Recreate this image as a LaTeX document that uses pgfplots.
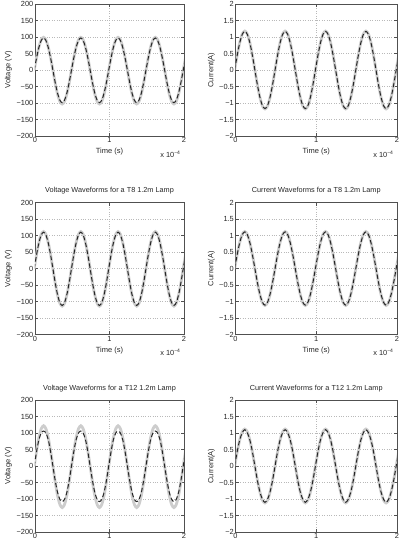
\documentclass[border=0pt]{standalone}
\usepackage{fontspec}
\setmainfont{Liberation Sans}
\usepackage{pgfplots}
\usepackage{pgfplotstable}
\pgfplotsset{compat=1.18}

\definecolor{measgrey}{RGB}{205,205,205}
\definecolor{gridgrey}{RGB}{185,185,185}
\definecolor{axisgrey}{RGB}{80,80,80}

% Measured (grey) and simulated (dashed) waveforms, time in units of 1e-4 s
% columns: t  vg (measured V)  vd (model V)  ig (measured I)  id (model I)
\pgfplotstableread{
t vg vd ig id
-0.01 0 0 0 0
0.02125 37.9 37.1 0.452 0.448
0.0525 70.0 68.6 0.834 0.827
0.08375 91.5 89.6 1.090 1.081
0.115 99 97 1.18 1.17
0.14625 91.5 89.6 1.090 1.081
0.1775 70.0 68.6 0.834 0.827
0.20875 37.9 37.1 0.452 0.448
0.24 0 0 0 0
0.27125 -39.4 -37.9 -0.452 -0.448
0.3025 -72.8 -70.0 -0.834 -0.827
0.33375 -95.2 -91.5 -1.090 -1.081
0.365 -103 -99 -1.18 -1.17
0.39625 -95.2 -91.5 -1.090 -1.081
0.4275 -72.8 -70.0 -0.834 -0.827
0.45875 -39.4 -37.9 -0.452 -0.448
0.49 0 0 0 0
0.52125 37.9 37.1 0.452 0.448
0.5525 70.0 68.6 0.834 0.827
0.58375 91.5 89.6 1.090 1.081
0.615 99 97 1.18 1.17
0.64625 91.5 89.6 1.090 1.081
0.6775 70.0 68.6 0.834 0.827
0.70875 37.9 37.1 0.452 0.448
0.74 0 0 0 0
0.77125 -39.4 -37.9 -0.452 -0.448
0.8025 -72.8 -70.0 -0.834 -0.827
0.83375 -95.2 -91.5 -1.090 -1.081
0.865 -103 -99 -1.18 -1.17
0.89625 -95.2 -91.5 -1.090 -1.081
0.9275 -72.8 -70.0 -0.834 -0.827
0.95875 -39.4 -37.9 -0.452 -0.448
0.99 0 0 0 0
1.02125 37.9 37.1 0.452 0.448
1.0525 70.0 68.6 0.834 0.827
1.08375 91.5 89.6 1.090 1.081
1.115 99 97 1.18 1.17
1.14625 91.5 89.6 1.090 1.081
1.1775 70.0 68.6 0.834 0.827
1.20875 37.9 37.1 0.452 0.448
1.24 0 0 0 0
1.27125 -39.4 -37.9 -0.452 -0.448
1.3025 -72.8 -70.0 -0.834 -0.827
1.33375 -95.2 -91.5 -1.090 -1.081
1.365 -103 -99 -1.18 -1.17
1.39625 -95.2 -91.5 -1.090 -1.081
1.4275 -72.8 -70.0 -0.834 -0.827
1.45875 -39.4 -37.9 -0.452 -0.448
1.49 0 0 0 0
1.52125 37.9 37.1 0.452 0.448
1.5525 70.0 68.6 0.834 0.827
1.58375 91.5 89.6 1.090 1.081
1.615 99 97 1.18 1.17
1.64625 91.5 89.6 1.090 1.081
1.6775 70.0 68.6 0.834 0.827
1.70875 37.9 37.1 0.452 0.448
1.74 0 0 0 0
1.77125 -39.4 -37.9 -0.452 -0.448
1.8025 -72.8 -70.0 -0.834 -0.827
1.83375 -95.2 -91.5 -1.090 -1.081
1.865 -103 -99 -1.18 -1.17
1.89625 -95.2 -91.5 -1.090 -1.081
1.9275 -72.8 -70.0 -0.834 -0.827
1.95875 -39.4 -37.9 -0.452 -0.448
1.99 0 0 0 0
2.02125 37.9 37.1 0.452 0.448
}\lampfive

\pgfplotstableread{
t vg vd ig id
-0.01 0 0 0 0
0.02125 42.9 42.1 0.429 0.425
0.0525 79.2 77.8 0.792 0.785
0.08375 103.5 101.6 1.035 1.026
0.115 112 110 1.12 1.11
0.14625 103.5 101.6 1.035 1.026
0.1775 79.2 77.8 0.792 0.785
0.20875 42.9 42.1 0.429 0.425
0.24 0 0 0 0
0.27125 -43.6 -42.9 -0.429 -0.425
0.3025 -80.6 -79.2 -0.792 -0.785
0.33375 -105.3 -103.5 -1.035 -1.026
0.365 -114 -112 -1.12 -1.11
0.39625 -105.3 -103.5 -1.035 -1.026
0.4275 -80.6 -79.2 -0.792 -0.785
0.45875 -43.6 -42.9 -0.429 -0.425
0.49 0 0 0 0
0.52125 42.9 42.1 0.429 0.425
0.5525 79.2 77.8 0.792 0.785
0.58375 103.5 101.6 1.035 1.026
0.615 112 110 1.12 1.11
0.64625 103.5 101.6 1.035 1.026
0.6775 79.2 77.8 0.792 0.785
0.70875 42.9 42.1 0.429 0.425
0.74 0 0 0 0
0.77125 -43.6 -42.9 -0.429 -0.425
0.8025 -80.6 -79.2 -0.792 -0.785
0.83375 -105.3 -103.5 -1.035 -1.026
0.865 -114 -112 -1.12 -1.11
0.89625 -105.3 -103.5 -1.035 -1.026
0.9275 -80.6 -79.2 -0.792 -0.785
0.95875 -43.6 -42.9 -0.429 -0.425
0.99 0 0 0 0
1.02125 42.9 42.1 0.429 0.425
1.0525 79.2 77.8 0.792 0.785
1.08375 103.5 101.6 1.035 1.026
1.115 112 110 1.12 1.11
1.14625 103.5 101.6 1.035 1.026
1.1775 79.2 77.8 0.792 0.785
1.20875 42.9 42.1 0.429 0.425
1.24 0 0 0 0
1.27125 -43.6 -42.9 -0.429 -0.425
1.3025 -80.6 -79.2 -0.792 -0.785
1.33375 -105.3 -103.5 -1.035 -1.026
1.365 -114 -112 -1.12 -1.11
1.39625 -105.3 -103.5 -1.035 -1.026
1.4275 -80.6 -79.2 -0.792 -0.785
1.45875 -43.6 -42.9 -0.429 -0.425
1.49 0 0 0 0
1.52125 42.9 42.1 0.429 0.425
1.5525 79.2 77.8 0.792 0.785
1.58375 103.5 101.6 1.035 1.026
1.615 112 110 1.12 1.11
1.64625 103.5 101.6 1.035 1.026
1.6775 79.2 77.8 0.792 0.785
1.70875 42.9 42.1 0.429 0.425
1.74 0 0 0 0
1.77125 -43.6 -42.9 -0.429 -0.425
1.8025 -80.6 -79.2 -0.792 -0.785
1.83375 -105.3 -103.5 -1.035 -1.026
1.865 -114 -112 -1.12 -1.11
1.89625 -105.3 -103.5 -1.035 -1.026
1.9275 -80.6 -79.2 -0.792 -0.785
1.95875 -43.6 -42.9 -0.429 -0.425
1.99 0 0 0 0
2.02125 42.9 42.1 0.429 0.425
}\lampeight

\pgfplotstableread{
t vg vd ig id
-0.01 0 0 0 0
0.02125 46.7 44 0.429 0.44
0.0525 86.3 80 0.792 0.79
0.08375 112.7 100 1.035 1.01
0.115 122 106 1.12 1.10
0.14625 112.7 100 1.035 1.01
0.1775 86.3 80 0.792 0.79
0.20875 46.7 44 0.429 0.44
0.24 0 0 0 0
0.27125 -48.2 -44 -0.429 -0.44
0.3025 -89.1 -80 -0.792 -0.79
0.33375 -116.4 -101 -1.035 -1.01
0.365 -126 -108 -1.12 -1.10
0.39625 -116.4 -101 -1.035 -1.01
0.4275 -89.1 -80 -0.792 -0.79
0.45875 -48.2 -44 -0.429 -0.44
0.49 0 0 0 0
0.52125 46.7 44 0.429 0.44
0.5525 86.3 80 0.792 0.79
0.58375 112.7 100 1.035 1.01
0.615 122 106 1.12 1.10
0.64625 112.7 100 1.035 1.01
0.6775 86.3 80 0.792 0.79
0.70875 46.7 44 0.429 0.44
0.74 0 0 0 0
0.77125 -48.2 -44 -0.429 -0.44
0.8025 -89.1 -80 -0.792 -0.79
0.83375 -116.4 -101 -1.035 -1.01
0.865 -126 -108 -1.12 -1.10
0.89625 -116.4 -101 -1.035 -1.01
0.9275 -89.1 -80 -0.792 -0.79
0.95875 -48.2 -44 -0.429 -0.44
0.99 0 0 0 0
1.02125 46.7 44 0.429 0.44
1.0525 86.3 80 0.792 0.79
1.08375 112.7 100 1.035 1.01
1.115 122 106 1.12 1.10
1.14625 112.7 100 1.035 1.01
1.1775 86.3 80 0.792 0.79
1.20875 46.7 44 0.429 0.44
1.24 0 0 0 0
1.27125 -48.2 -44 -0.429 -0.44
1.3025 -89.1 -80 -0.792 -0.79
1.33375 -116.4 -101 -1.035 -1.01
1.365 -126 -108 -1.12 -1.10
1.39625 -116.4 -101 -1.035 -1.01
1.4275 -89.1 -80 -0.792 -0.79
1.45875 -48.2 -44 -0.429 -0.44
1.49 0 0 0 0
1.52125 46.7 44 0.429 0.44
1.5525 86.3 80 0.792 0.79
1.58375 112.7 100 1.035 1.01
1.615 122 106 1.12 1.10
1.64625 112.7 100 1.035 1.01
1.6775 86.3 80 0.792 0.79
1.70875 46.7 44 0.429 0.44
1.74 0 0 0 0
1.77125 -48.2 -44 -0.429 -0.44
1.8025 -89.1 -80 -0.792 -0.79
1.83375 -116.4 -101 -1.035 -1.01
1.865 -126 -108 -1.12 -1.10
1.89625 -116.4 -101 -1.035 -1.01
1.9275 -89.1 -80 -0.792 -0.79
1.95875 -48.2 -44 -0.429 -0.44
1.99 0 0 0 0
2.02125 46.7 44 0.429 0.44
}\lamptwelve

\pgfplotsset{
  wave/.style={
    scale only axis, height=132pt,
    xmin=0, xmax=2, xtick={0,1,2},
    tick align=inside, tick pos=both,
    xticklabel pos=lower, yticklabel pos=left,
    major tick length=3pt,
    grid=major,
    major grid style={gridgrey, dotted, line width=0.5pt},
    axis line style={axisgrey, line width=0.5pt},
    every tick/.style={axisgrey, line width=0.5pt},
    /pgf/number format/assume math mode=true,
    every tick label/.append style={font=\fontsize{7.4}{8}\selectfont, text=black!85, inner sep=1.5pt},
    title style={font=\fontsize{7.3}{9}\selectfont, text=black!85,
      at={(axis description cs:0.5,1)}, anchor=south, inner sep=0pt, yshift=2pt},
    xlabel={Time (s)},
    xlabel style={font=\fontsize{7.5}{9}\selectfont, text=black!85,
      at={(axis description cs:0.5,-0.121)}, anchor=center},
    ylabel style={font=\fontsize{7.5}{9}\selectfont, text=black!85, anchor=center},
    clip mode=individual,
  },
  volt/.style={wave, width=149pt, ymin=-200, ymax=200, ytick={-200,-150,...,200},
    yticklabels={−200,−150,−100,−50,0,50,100,150,200},
    ylabel={Voltage (V)}, ylabel style={at={(axis description cs:-0.179,0.5)}}},
  curr/.style={wave, width=161.5pt, ymin=-2, ymax=2, ytick={-2,-1.5,...,2},
    yticklabels={−2,−1.5,−1,−0.5,0,0.5,1,1.5,2},
    ylabel={Current(A)}, ylabel style={at={(axis description cs:-0.149,0.5)}}},
  meas/.style={measgrey, line width=2.8pt, smooth, no markers},
  model/.style={black!85, line width=1pt, dash pattern=on 4.5pt off 2.5pt, smooth, no markers},
}

% exponent note under the right end of the time axis
\newcommand{\tenfour}{\node[anchor=base east, font=\fontsize{7.4}{8}\selectfont, text=black!85]
  at (axis description cs:1,-0.16) {x 10\textsuperscript{\fontsize{5}{6}\selectfont −4}};}

\begin{document}
\begin{tikzpicture}
\useasboundingbox (0pt,0pt) rectangle (403pt,542pt);
\clip (0pt,0pt) rectangle (403pt,542pt);

% T5 lamp
\begin{axis}[volt, at={(35pt,406pt)}, anchor=south west,
  title={Voltage Waveforms for a T5 1.2m Lamp}]
  \addplot[meas] table[x=t, y=vg] {\lampfive};
  \addplot[model] table[x=t, y=vd] {\lampfive};
  \tenfour
\end{axis}
\begin{axis}[curr, at={(235.5pt,406pt)}, anchor=south west,
  title={Current Waveforms for a T5 1.2m Lamp}]
  \addplot[meas] table[x=t, y=ig] {\lampfive};
  \addplot[model] table[x=t, y=id] {\lampfive};
  \tenfour
\end{axis}

% T8 lamp
\begin{axis}[volt, at={(35pt,207.5pt)}, anchor=south west,
  title={Voltage Waveforms for a T8 1.2m Lamp}]
  \addplot[meas] table[x=t, y=vg] {\lampeight};
  \addplot[model] table[x=t, y=vd] {\lampeight};
  \tenfour
\end{axis}
\begin{axis}[curr, at={(235.5pt,207.5pt)}, anchor=south west,
  title={Current Waveforms for a T8 1.2m Lamp}]
  \addplot[meas] table[x=t, y=ig] {\lampeight};
  \addplot[model] table[x=t, y=id] {\lampeight};
  \tenfour
\end{axis}

% T12 lamp
\begin{axis}[volt, at={(35pt,10pt)}, anchor=south west,
  title={Voltage Waveforms for a T12 1.2m Lamp}]
  \addplot[meas] table[x=t, y=vg] {\lamptwelve};
  \addplot[model] table[x=t, y=vd] {\lamptwelve};
  \tenfour
\end{axis}
\begin{axis}[curr, at={(235.5pt,10pt)}, anchor=south west,
  title={Current Waveforms for a T12 1.2m Lamp}]
  \addplot[meas] table[x=t, y=ig] {\lamptwelve};
  \addplot[model] table[x=t, y=id] {\lamptwelve};
  \tenfour
\end{axis}
\end{tikzpicture}
\end{document}
